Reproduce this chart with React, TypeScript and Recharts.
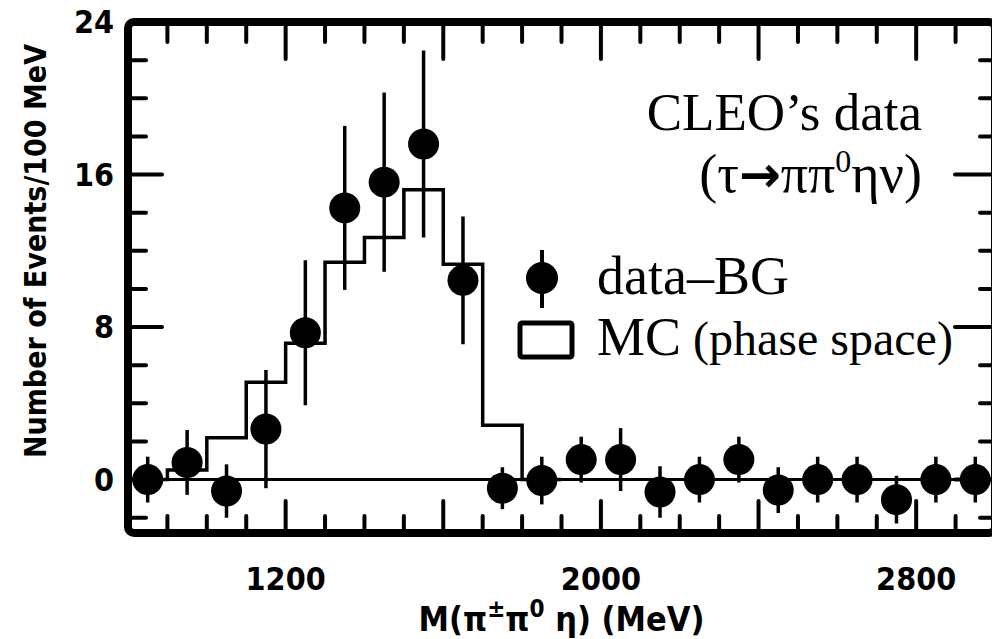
import { ComposedChart, XAxis, YAxis, Scatter, Line, ErrorBar, ReferenceLine, ReferenceArea, Legend } from 'recharts';

// bin centres (MeV) of the data - background points
const massBins = [850, 950, 1050, 1150, 1250, 1350, 1450, 1550, 1650, 1750, 1850, 1950, 2050, 2150, 2250, 2350, 2450, 2550, 2650, 2750, 2850, 2950];
const dataMinusBg = [0, 0.9, -0.6, 2.65, 7.7, 14.25, 15.6, 17.6, 10.45, -0.45, -0.05, 1.05, 1.05, -0.65, 0, 1.05, -0.55, 0, 0, -1.05, 0, 0];
const dataErrors = [1.2, 1.7, 1.4, 3.1, 3.8, 4.3, 4.7, 4.9, 3.35, 1.1, 1.25, 1.2, 1.65, 1.35, 1.2, 1.2, 1.2, 1.2, 1.2, 1.25, 1.2, 1.2];

// MC phase space histogram, lower bin edges
const mcEdges = [800, 900, 1000, 1100, 1200, 1300, 1400, 1500, 1600, 1700, 1800, 1900];
const mcCounts = [0, 0.5, 2.2, 5.1, 7.15, 11.4, 12.7, 15.2, 11.3, 2.85, 0, 0];

const xTicks = [800, 900, 1000, 1100, 1200, 1300, 1400, 1500, 1600, 1700, 1800, 1900, 2000, 2100, 2200, 2300, 2400, 2500, 2600, 2700, 2800, 2900, 3000];
const xLongTicks = [1200, 1600, 2000, 2400, 2800];
const xTickLabels = [1200, 2000, 2800];
const yTicks = [-2, 0, 2, 4, 6, 8, 10, 12, 14, 16, 18, 20, 22, 24];
const yLongTicks = [0, 8, 16];
const yTickLabels = [0, 8, 16, 24];

const points = massBins.map((m, i) => ({ x: m, y: dataMinusBg[i], err: dataErrors[i] }));
const mcHist = mcEdges.map((e, i) => ({ x: e, mc: mcCounts[i] }));

const SANS = "'Liberation Sans Narrow', 'DejaVu Sans Condensed', 'Roboto Condensed', 'Liberation Sans', sans-serif";
const SERIF = "'Liberation Serif', 'DejaVu Serif', serif";
const X_MIN = 800;
const X_MAX = 3000;
const Y_MIN = -2.8;
const Y_MAX = 24;

const tickStroke = { stroke: '#000', strokeWidth: 4, strokeLinecap: 'round' as const };

const BottomTick = ({ x, y, payload }: any) => {
  const v = payload.value;
  const len = xLongTicks.includes(v) ? 32 : 17;
  return (
    <g>
      {v > X_MIN && v < X_MAX && <line x1={x} x2={x} y1={y} y2={y - len} {...tickStroke} />}
      {xTickLabels.includes(v) && (
        <text x={x} y={y + 57} textAnchor="middle" fontFamily={SANS} fontWeight="bold" fontSize={32} fill="#000">
          {v}
        </text>
      )}
    </g>
  );
};

const TopTick = ({ x, y, payload }: any) => {
  const v = payload.value;
  const len = xLongTicks.includes(v) ? 37 : 20;
  if (v <= X_MIN || v >= X_MAX) return <g />;
  return <line x1={x} x2={x} y1={y} y2={y + len} {...tickStroke} />;
};

const LeftTick = ({ x, y, payload }: any) => {
  const v = payload.value;
  const len = yLongTicks.includes(v) ? 34 : 18;
  return (
    <g>
      {v < Y_MAX && <line x1={x} x2={x + len} y1={y} y2={y} {...tickStroke} />}
      {yTickLabels.includes(v) && (
        <text x={x - 14} y={y + 11} textAnchor="end" fontFamily={SANS} fontWeight="bold" fontSize={32} fill="#000">
          {v}
        </text>
      )}
    </g>
  );
};

const RightTick = ({ x, y, payload }: any) => {
  const v = payload.value;
  const len = yLongTicks.includes(v) ? 40 : 15;
  if (v >= Y_MAX) return <g />;
  return <line x1={x} x2={x - len} y1={y} y2={y} {...tickStroke} />;
};

const XTitle = ({ viewBox }: any) => {
  const cx = viewBox.x + viewBox.width / 2;
  return (
    <text x={cx} y={viewBox.y + 98} textAnchor="middle" fontFamily={SANS} fontWeight="bold" fontSize={34} fill="#000">
      M(π<tspan dy={-14} fontSize={24}>±</tspan>
      <tspan dy={14}>π</tspan>
      <tspan dy={-14} fontSize={24}>0</tspan>
      <tspan dy={14}> η) (MeV)</tspan>
    </text>
  );
};

const YTitle = ({ viewBox }: any) => {
  const cx = viewBox.x + 35;
  const cy = 251;
  return (
    <text
      x={cx}
      y={cy}
      transform={`rotate(-90, ${cx}, ${cy})`}
      textAnchor="middle"
      dominantBaseline="central"
      fontFamily={SANS}
      fontWeight="bold"
      fontSize={30}
      fill="#000"
    >
      Number of Events/100 MeV
    </text>
  );
};

const ChartKey = ({ payload = [] }: any) => {
  const rows = [...payload].sort((a: any, b: any) => (a.type === 'circle' ? -1 : 0) - (b.type === 'circle' ? -1 : 0));
  return (
    <svg width={1000} height={639} style={{ display: 'block' }}>
      <text x={922} y={130} textAnchor="end" fontFamily={SERIF} fontSize={53} fill="#000">
        CLEO’s data
      </text>
      <text x={922} y={192} textAnchor="end" fontFamily={SERIF} fontSize={54} fill="#000">
        (τ<tspan fontFamily="'DejaVu Sans', sans-serif" fontWeight="bold" fontSize={50}>→</tspan>ππ
        <tspan dy={-20} fontSize={32}>0</tspan>
        <tspan dy={20}>ην)</tspan>
      </text>
      {rows.map((entry: any, i: number) => {
        const cy = 278 + i * 61;
        const name = String(entry.value);
        const split = name.indexOf(' ');
        return (
          <g key={name}>
            {entry.type === 'circle' ? (
              <g>
                <line x1={542} x2={542} y1={cy - 28} y2={cy + 30} stroke="#000" strokeWidth={4} />
                <circle cx={542} cy={cy} r={16} fill="#000" />
              </g>
            ) : (
              <rect x={520} y={cy - 16} width={52} height={34} rx={2} fill="none" stroke="#000" strokeWidth={5} />
            )}
            <text x={597} y={cy + 16} fontFamily={SERIF} fontSize={54} fill="#000">
              {split > 0 ? name.slice(0, split) : name}
              {split > 0 && <tspan fontSize={48}>{name.slice(split)}</tspan>}
            </text>
          </g>
        );
      })}
    </svg>
  );
};

const DataDot = ({ cx, cy }: any) => <circle cx={cx} cy={cy} r={15.5} fill="#000" />;

export default function App() {
  return (
    <div style={{ position: 'absolute', left: 0, top: 0, width: 992, height: 639, overflow: 'hidden', background: '#fff' }}>
      <ComposedChart width={1000} height={639} data={points} margin={{ top: 0, right: 0, bottom: 0, left: 0 }}>
        <XAxis
          xAxisId="b"
          dataKey="x"
          type="number"
          domain={[X_MIN, X_MAX]}
          allowDataOverflow
          ticks={xTicks}
          interval={0}
          height={106}
          axisLine={false}
          tickLine={false}
          tickSize={0}
          tickMargin={0}
          tick={<BottomTick />}
          label={<XTitle />}
        />
        <XAxis
          xAxisId="t"
          orientation="top"
          dataKey="x"
          type="number"
          domain={[X_MIN, X_MAX]}
          allowDataOverflow
          ticks={xTicks}
          interval={0}
          height={22}
          axisLine={false}
          tickLine={false}
          tickSize={0}
          tickMargin={0}
          tick={<TopTick />}
        />
        <YAxis
          yAxisId="l"
          type="number"
          domain={[Y_MIN, Y_MAX]}
          allowDataOverflow
          ticks={yTicks}
          interval={0}
          width={128}
          axisLine={false}
          tickLine={false}
          tickSize={0}
          tickMargin={0}
          tick={<LeftTick />}
          label={<YTitle />}
        />
        <YAxis
          yAxisId="r"
          orientation="right"
          type="number"
          domain={[Y_MIN, Y_MAX]}
          allowDataOverflow
          ticks={yTicks}
          interval={0}
          width={5}
          axisLine={false}
          tickLine={false}
          tickSize={0}
          tickMargin={0}
          tick={<RightTick />}
        />
        <ReferenceLine xAxisId="b" yAxisId="l" y={0} stroke="#000" strokeWidth={3} />
        <Line
          xAxisId="b"
          yAxisId="l"
          data={mcHist}
          dataKey="mc"
          name="MC (phase space)"
          legendType="rect"
          type="stepAfter"
          stroke="#000"
          strokeWidth={3.5}
          dot={false}
          activeDot={false}
          isAnimationActive={false}
        />
        <Scatter
          xAxisId="b"
          yAxisId="l"
          data={points}
          dataKey="y"
          name="data–BG"
          legendType="circle"
          fill="#000"
          shape={<DataDot />}
          isAnimationActive={false}
        >
          <ErrorBar dataKey="err" direction="y" width={0} stroke="#000" strokeWidth={3.5} isAnimationActive={false} />
        </Scatter>
        <ReferenceArea
          xAxisId="b"
          yAxisId="l"
          x1={X_MIN}
          x2={X_MAX}
          y1={Y_MIN}
          y2={Y_MAX}
          fill="none"
          stroke="#000"
          strokeWidth={8}
          radius={6}
          ifOverflow="visible"
        />
        <Legend
          layout="vertical"
          align="center"
          verticalAlign="middle"
          content={<ChartKey />}
          wrapperStyle={{ left: 0, top: 0, width: 1000, height: 639, pointerEvents: 'none' }}
        />
      </ComposedChart>
    </div>
  );
}
